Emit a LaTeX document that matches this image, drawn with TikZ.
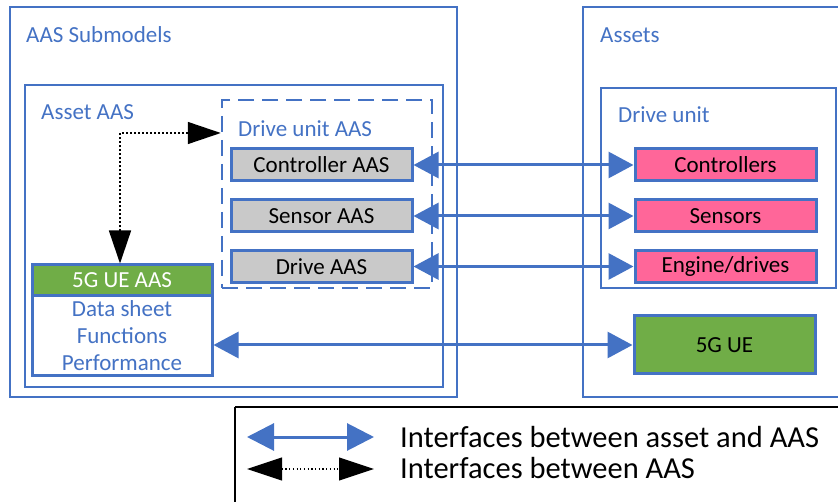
\documentclass[tikz,border=0pt]{standalone}
\usepackage{fontspec}
\setmainfont{Carlito}
\usetikzlibrary{arrows.meta}
\definecolor{aasblue}{HTML}{4472C4}
\definecolor{aasgreen}{HTML}{70AD47}
\definecolor{aaspink}{HTML}{FF6699}
\definecolor{aasgray}{HTML}{C9C9C9}
\begin{document}
\begin{tikzpicture}[x=1pt,y=-1pt,
  frame/.style={draw=aasblue, line width=2.5pt},
  caption/.style={anchor=base west, inner sep=0pt, text=aasblue,
    font=\fontsize{23}{27}\selectfont},
  part/.style={draw=aasblue, line width=3pt, inner sep=0pt,
    minimum width=181pt, minimum height=32pt,
    font=\fontsize{23}{27}\selectfont},
  aaspart/.style={part, fill=aasgray},
  assetpart/.style={part, fill=aaspink},
  assetlink/.style={draw=aasblue, line width=3pt,
    {Triangle[length=25pt,width=26pt]}-{Triangle[length=25pt,width=26pt]}},
  aaslink/.style={draw=black, line width=1.5pt, dash pattern=on 1.5pt off 2.5pt,
    {Triangle[length=33pt,width=22pt]}-{Triangle[length=33pt,width=22pt]}},
  legendtext/.style={anchor=base west, inner sep=0pt,
    font=\fontsize{30.5}{33}\selectfont},
]
\useasboundingbox (0,0) rectangle (838,502);

% outer frames
\draw[frame] (10,7) rectangle (457,397);
\node[caption] (subm) at (26,43) {AAS Submodels};
\draw[frame] (25,85) rectangle (443,387);
\node[caption] (assetaas) at (41,120) {Asset AAS};
\draw[frame] (583,7) rectangle (860,397);
\node[caption] (assets) at (600,43) {Assets};
\draw[frame] (601,88) rectangle (836,288);
\node[caption] (driveunit) at (618,123) {Drive unit};

% drive unit AAS group
\node[draw=aasblue, line width=2.5pt, dash pattern=on 16pt off 8pt, inner sep=0pt,
  minimum width=210pt, minimum height=188pt] (du) at (327,194) {};
\node[caption] (dutitle) at (238,137) {Drive unit AAS};

\node[aaspart] (ctrl) at (321.5,165) {Controller AAS};
\node[aaspart] (sens) at (321.5,216) {Sensor AAS};
\node[aaspart] (drv)  at (321.5,266.5) {Drive AAS};

% asset side
\node[assetpart] (ctrls) at (725.5,165) {Controllers};
\node[assetpart] (senss) at (725.5,216) {Sensors};
\node[assetpart] (engine) at (725.5,266.5) {Engine/drives};
\node[part, fill=aasgreen, minimum height=58pt] (ue) at (724.5,345) {5G UE};

% 5G UE AAS
\node[part, fill=aasgreen, text=white, minimum width=180pt, minimum height=31pt]
  (ueh) at (122,280.5) {5G UE AAS};
\node[part, fill=white, text=aasblue, minimum width=180pt, minimum height=80pt,
  align=center] (uebody) at (122,336) {Data sheet\\Functions\\Performance};

% interfaces
\draw[assetlink] (ctrl.east) -- (ctrls.west);
\draw[assetlink] (sens.east) -- (senss.west);
\draw[assetlink] (drv.east) -- (engine.west);
\draw[assetlink] (uebody.east |- ue.west) -- (ue.west);
\coordinate (bend) at (120,133);
\draw[aaslink] (ueh.north -| bend) |- (du.west |- bend);

% legend
\draw[black, line width=2.5pt] (235,407) -- (860,407);
\draw[black, line width=2.5pt] (235,407) -- (235,520);
\coordinate (la1) at (247,437);
\coordinate (lb1) at (374,437);
\coordinate (la2) at (247,469);
\coordinate (lb2) at (374,469);
\draw[draw=aasblue, line width=3pt,
  {Triangle[length=27pt,width=27pt]}-{Triangle[length=27pt,width=27pt]}] (la1) -- (lb1);
\draw[black, line width=1.2pt, dash pattern=on 1.2pt off 2.5pt,
  {Triangle[length=35pt,width=23pt]}-{Triangle[length=35pt,width=23pt]}] (la2) -- (lb2);
\node[legendtext] (leg1) at (400,447) {Interfaces between asset and AAS};
\node[legendtext] (leg2) at (400,478) {Interfaces between AAS};
\end{tikzpicture}
\end{document}
